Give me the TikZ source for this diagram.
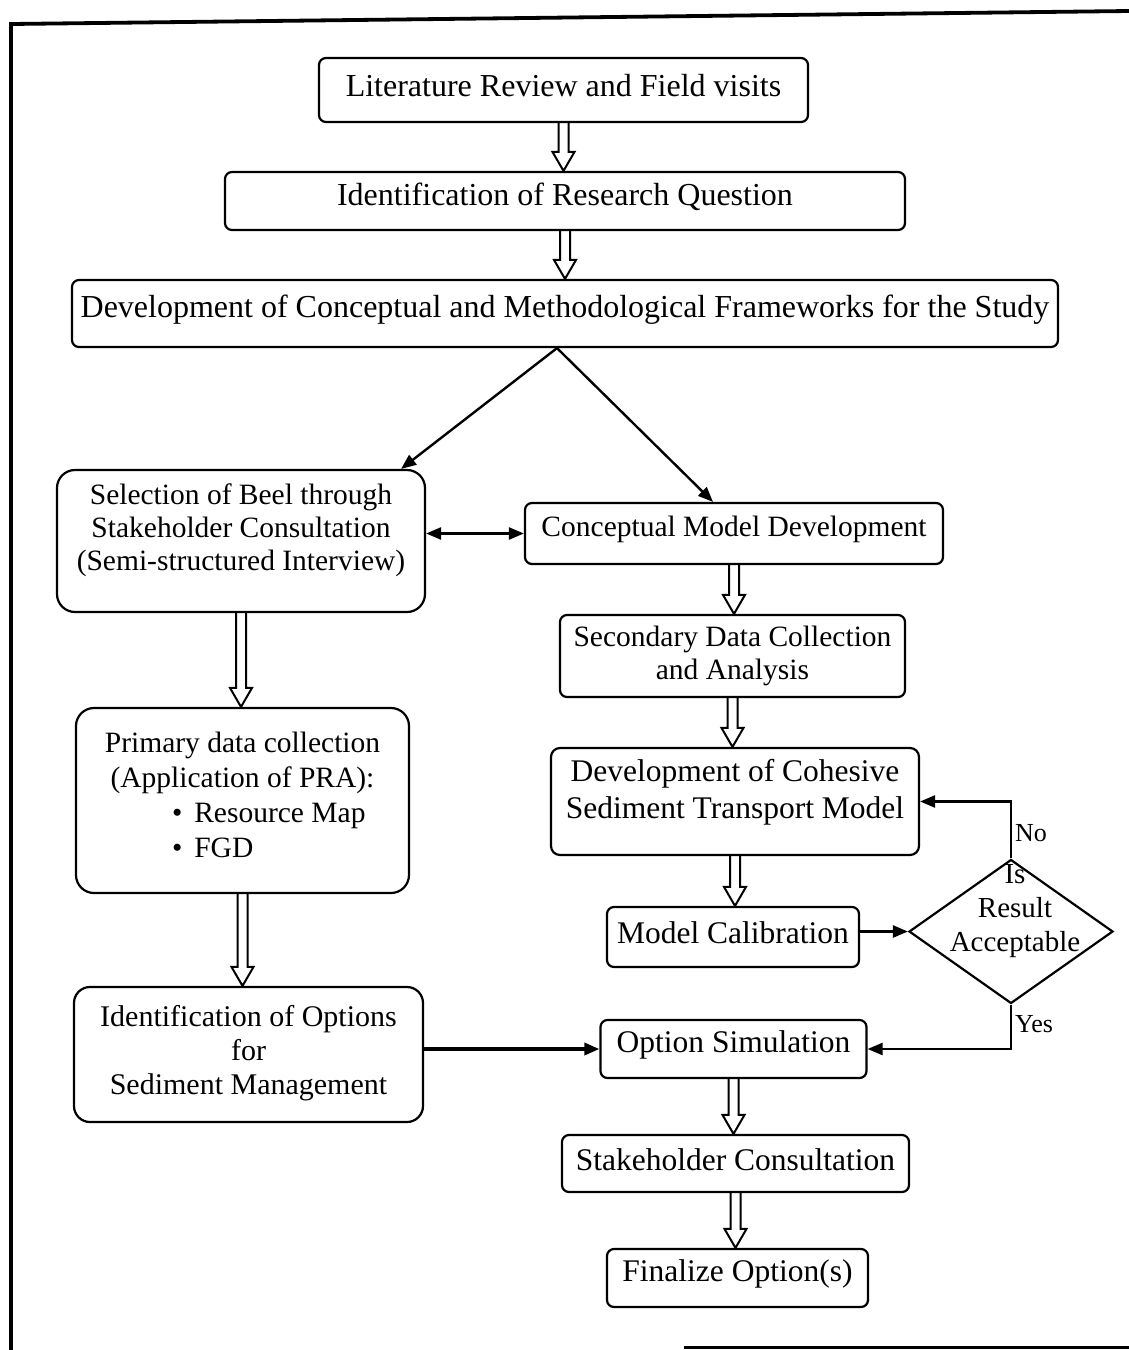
\documentclass[tikz,border=0pt]{standalone}
\usepackage{fontspec}
\setmainfont{Liberation Serif}
\usetikzlibrary{arrows.meta,shapes.geometric,calc}
\newcommand\hollowarrow[2]{%
  \draw[hol] let \p1=(#1.south), \p2=(#2.north) in
    (\x1-5pt,\y1) -- (\x1-5pt,\y2+19pt) -- (\x1-11pt,\y2+19pt) -- (\x1,\y2)
    -- (\x1+11pt,\y2+19pt) -- (\x1+5pt,\y2+19pt) -- (\x1+5pt,\y1);}
\newcommand\upt[1]{\raisebox{4pt}[\height][\depth]{#1}}
\begin{document}
\begin{tikzpicture}[x=1pt,y=-1pt,
  box/.style={draw, line width=2.2pt, rounded corners=7pt, align=center, inner sep=0pt},
  fbig/.style={font=\fontsize{32}{37}\selectfont},
  fmid/.style={font=\fontsize{31.5}{37}\selectfont},
  fsml/.style={font=\fontsize{29.5}{33}\selectfont},
  arr/.style={line width=2.4pt, -{Triangle[length=15pt,width=12pt]}},
  darr/.style={line width=2.4pt, {Triangle[length=15pt,width=12pt]}-{Triangle[length=15pt,width=12pt]}},
  hol/.style={line width=2pt, line join=miter},
  lab/.style={font=\fontsize{26}{30}\selectfont, inner sep=3pt},
]
\fill[white] (0,0) rectangle (1129,1350);
\useasboundingbox (0,0) rectangle (1129,1350);
% frame
\draw[line width=3.8pt] (1129,11) -- (11,24) -- (11,1350);
\draw[line width=3pt] (684,1347) -- (1129,1347);

% nodes
\node[box, fbig, minimum width=489pt, minimum height=64pt] (lit) at (563.5,90) {\upt{Literature Review and Field visits}};
\node[box, fbig, minimum width=680pt, minimum height=58pt] (irq) at (565,201) {\upt{Identification of Research Question}};
\node[box, fbig, minimum width=986pt, minimum height=67pt] (dev) at (565,313.5) {\upt{Development of Conceptual and Methodological Frameworks for the Study}};
\node[box, fsml, rounded corners=18pt, minimum width=368pt, minimum height=142pt] (sel) at (241,541)
  {Selection of Beel through\\Stakeholder Consultation\\(Semi-structured Interview)\\[-4.5pt]\mbox{}};
\node[box, fsml, minimum width=418pt, minimum height=61pt] (cmd) at (734,533.5) {\upt{Conceptual Model Development}};
\node[box, fsml, minimum width=345pt, minimum height=82pt] (sec) at (732.5,656) {Secondary Data Collection\\and Analysis};
\node[box, fmid, rounded corners=9pt, minimum width=368pt, minimum height=107pt] (dch) at (735,801.5)
  {Development of Cohesive\\Sediment Transport Model\\[-12.5pt]\mbox{}};
\node[box, fmid, minimum width=252pt, minimum height=60pt] (mc) at (733,937) {\upt{Model Calibration}};
\node[draw, line width=2.2pt, diamond, align=center, font=\fontsize{29}{34}\selectfont,
  minimum width=204pt, minimum height=144pt, inner xsep=-62pt, inner ysep=-50pt] (dia) at (1011,931.5)
  {\hspace*{8pt}Is\\\hspace*{8pt}Result\\\hspace*{8pt}Acceptable\\[14pt]\mbox{}};
\node[box, font=\fontsize{29.5}{35}\selectfont, rounded corners=18pt, minimum width=333pt, minimum height=185pt] (pri) at (242.5,800.5)
  {Primary data collection\\(Application of PRA):\\\makebox[141pt][l]{\textbullet\hspace{12pt}Resource Map}\\\makebox[141pt][l]{\textbullet\hspace{12pt}FGD}\\[-24pt]\mbox{}};
\node[box, font=\fontsize{30}{34}\selectfont, rounded corners=16pt, minimum width=349pt, minimum height=135pt] (opt) at (248.5,1054.5)
  {Identification of Options\\for\\Sediment Management\\[-25pt]\mbox{}};
\node[box, fmid, minimum width=266pt, minimum height=58pt] (os) at (733.5,1049) {\upt{Option Simulation}};
\node[box, fmid, minimum width=347pt, minimum height=57pt] (sc) at (735.5,1163.5) {\upt{Stakeholder Consultation}};
\node[box, fmid, minimum width=261pt, minimum height=58pt] (fin) at (737.5,1278) {\upt{Finalize Option(s)}};

% hollow arrows
\hollowarrow{lit}{irq}
\hollowarrow{irq}{dev}
\hollowarrow{cmd}{sec}
\hollowarrow{sec}{dch}
\hollowarrow{dch}{mc}
\hollowarrow{sel}{pri}
\hollowarrow{pri}{opt}
\hollowarrow{os}{sc}
\hollowarrow{sc}{fin}

% plain arrows
\draw[arr] ($(dev.south)+(-8,0)$) -- ($(sel.north east)+(-25,0)$);
\draw[arr] ($(dev.south)+(-8,0)$) -- ($(cmd.north)+(-21,0)$);
\draw[darr] (sel.east |- cmd.west) -- (cmd.west);
\draw[arr] (mc.east |- dia.west) -- (dia.west);
\draw[arr] (dia.north) |- node[lab, pos=0.22, right] (no) {No} (dch.east);
\draw[arr] (dia.south) |- node[lab, pos=0.22, right] (yes) {Yes} (os.east);
\draw[arr, line width=3.4pt] (opt.east |- os.west) -- (os.west);
\end{tikzpicture}
\end{document}
